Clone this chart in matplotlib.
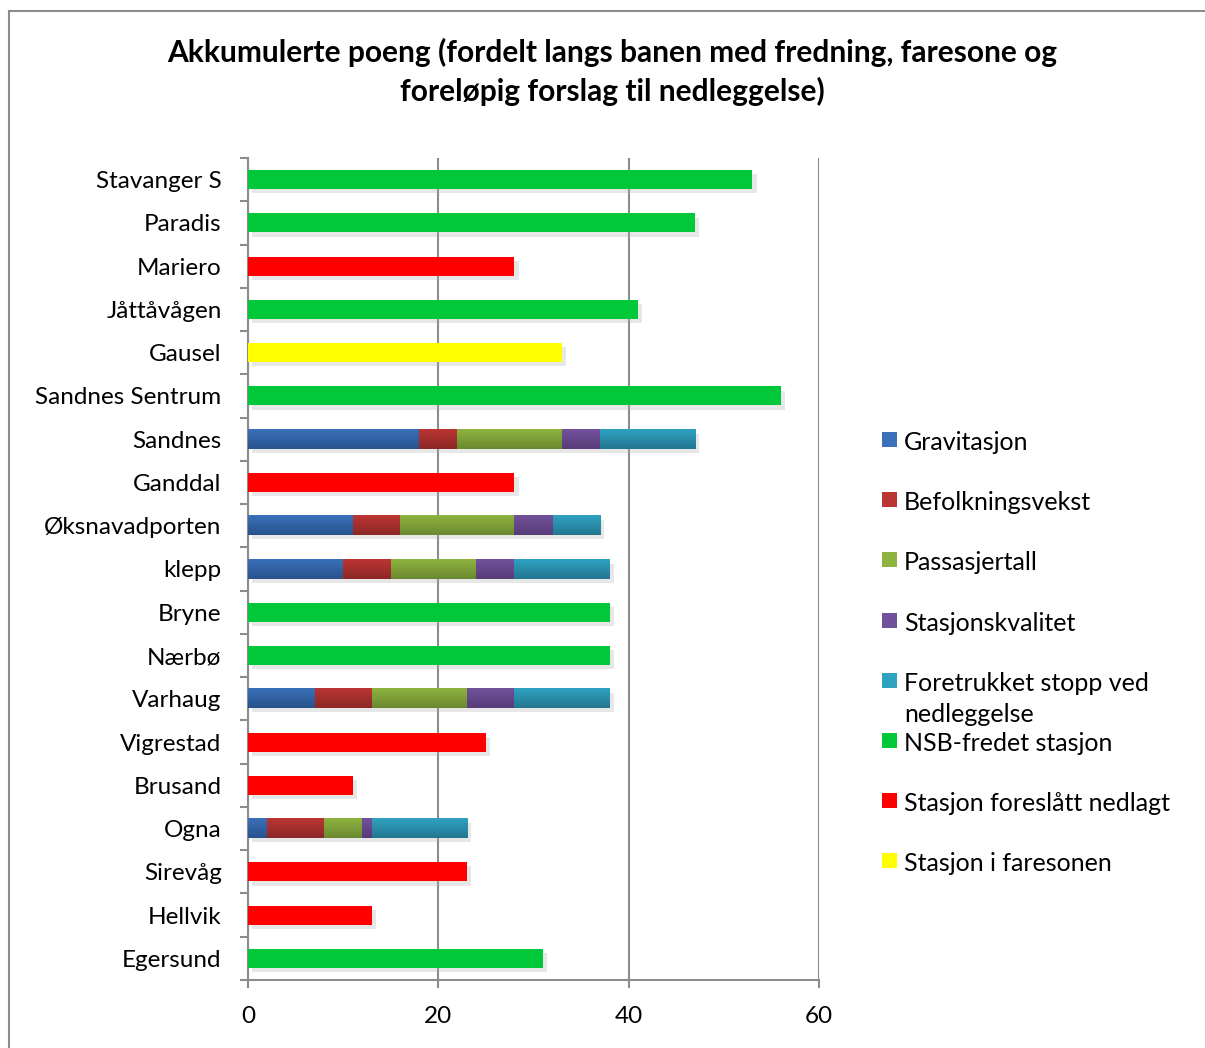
import numpy as np
import matplotlib
matplotlib.use("Agg")
import matplotlib.pyplot as plt
import matplotlib.patheffects as pe
from matplotlib.colors import LinearSegmentedColormap
from matplotlib.patches import Rectangle

plt.rcParams["font.family"] = ["Lato", "DejaVu Sans"]

# Stations, top to bottom
stations = ["Stavanger S", "Paradis", "Mariero", "Jåttåvågen", "Gausel",
            "Sandnes Sentrum", "Sandnes", "Ganddal", "Øksnavadporten", "klepp",
            "Bryne", "Nærbø", "Varhaug", "Vigrestad", "Brusand", "Ogna",
            "Sirevåg", "Hellvik", "Egersund"]

# Point breakdown for the stations that were scored
gravitasjon =       [0, 0, 0, 0, 0, 0, 18, 0, 11, 10, 0, 0, 7, 0, 0, 2, 0, 0, 0]
befolkningsvekst =  [0, 0, 0, 0, 0, 0, 4, 0, 5, 5, 0, 0, 6, 0, 0, 6, 0, 0, 0]
passasjertall =     [0, 0, 0, 0, 0, 0, 11, 0, 12, 9, 0, 0, 10, 0, 0, 4, 0, 0, 0]
stasjonskvalitet =  [0, 0, 0, 0, 0, 0, 4, 0, 4, 4, 0, 0, 5, 0, 0, 1, 0, 0, 0]
foretrukket_stopp = [0, 0, 0, 0, 0, 0, 10, 0, 5, 10, 0, 0, 10, 0, 0, 10, 0, 0, 0]

# Total points for protected / proposed closed / danger zone stations
nsb_fredet =        [53, 47, 0, 41, 0, 56, 0, 0, 0, 0, 38, 38, 0, 0, 0, 0, 0, 0, 31]
foreslatt_nedlagt = [0, 0, 28, 0, 0, 0, 0, 28, 0, 0, 0, 0, 0, 25, 11, 0, 23, 13, 0]
faresone =          [0, 0, 0, 0, 33, 0, 0, 0, 0, 0, 0, 0, 0, 0, 0, 0, 0, 0, 0]

# label, values, flat colour, (top, bottom) gradient or None
series = [
    ("Gravitasjon", gravitasjon, "#2f62a6", ("#3a71ba", "#28528c")),
    ("Befolkningsvekst", befolkningsvekst, "#ab3230", ("#bb3632", "#8c2727")),
    ("Passasjertall", passasjertall, "#82a23a", ("#8fb340", "#6a8930")),
    ("Stasjonskvalitet", stasjonskvalitet, "#654a8c", ("#72519c", "#573c78")),
    ("Foretrukket stopp ved\nnedleggelse", foretrukket_stopp, "#2a93b0",
     ("#2fa2c2", "#237690")),
    ("NSB-fredet stasjon", nsb_fredet, "#00c838", None),
    ("Stasjon foreslått nedlagt", foreslatt_nedlagt, "#ff0000", None),
    ("Stasjon i faresonen", faresone, "#ffff00", None),
]

W, H = 1205, 1048
fig = plt.figure(figsize=(W / 100, H / 100), dpi=100)
ax = fig.add_axes([248 / W, 1 - 980 / H, (819 - 248) / W, (980 - 158) / H])

y = np.arange(len(stations))
left = np.zeros(len(stations))
shadow = [pe.SimplePatchShadow(offset=(3, -3), shadow_rgbFace="#b0b0b0", alpha=0.3),
          pe.Normal()]
ramp = np.linspace(0, 1, 64).reshape(-1, 1)
for label, vals, color, grad in series:
    vals = np.array(vals, dtype=float)
    bars = ax.barh(y, vals, left=left, height=0.44, color=color, zorder=3)
    for b in bars:
        b.set_path_effects(shadow)
        if grad is not None and b.get_width() > 0:
            cmap = LinearSegmentedColormap.from_list("g", list(grad))
            x0, y0 = b.get_x(), b.get_y()
            ax.imshow(ramp, cmap=cmap, aspect="auto", interpolation="bilinear",
                      extent=(x0, x0 + b.get_width(), y0 + b.get_height(), y0),
                      zorder=3.5)
    left += vals

grey = "#8c8c8c"
ax.set_xlim(0, 60)
ax.set_ylim(len(stations) - 0.5, -0.5)
ax.set_xticks([0, 20, 40, 60])
ax.set_yticks(y)
ax.set_yticklabels(stations)
ax.set_yticks(np.arange(len(stations) + 1) - 0.5, minor=True)
ax.tick_params(axis="y", which="major", length=0, pad=19, labelsize=17.5)
ax.tick_params(axis="y", which="minor", length=6, width=1.5, color=grey, direction="out")
ax.tick_params(axis="x", length=6, width=1.5, color=grey, pad=13, labelsize=17.5)
ax.grid(axis="x", color=grey, linewidth=1.5, zorder=0)
ax.set_axisbelow(True)
for side in ("top", "right"):
    ax.spines[side].set_visible(False)
for side in ("left", "bottom"):
    ax.spines[side].set_color(grey)
    ax.spines[side].set_linewidth(1.5)

fig.text(612 / W, 1 - 72 / H,
         "Akkumulerte poeng (fordelt langs banen med fredning, faresone og\n"
         "foreløpig forslag til nedleggelse)",
         ha="center", va="center", fontsize=21.5, fontweight="bold", linespacing=1.4)

# Legend
for i, (label, vals, color, grad) in enumerate(series):
    yc = 1 - (440 + 60.2 * i) / H
    face = color if grad is None else grad[0]
    fig.patches.append(Rectangle((882 / W, yc - 7 / H), 15 / W, 15 / H,
                                 transform=fig.transFigure, facecolor=face,
                                 edgecolor="none"))
    fig.text(904 / W, yc + 9 / H, label, ha="left", va="top",
             fontsize=18, linespacing=1.45)

# Outer frame
fig.patches.append(Rectangle((9 / W, -0.05), 1.2, 1.05 - 11 / H,
                             transform=fig.transFigure, fill=False,
                             edgecolor=grey, linewidth=1.5))

fig.savefig("out.png", dpi=100)
